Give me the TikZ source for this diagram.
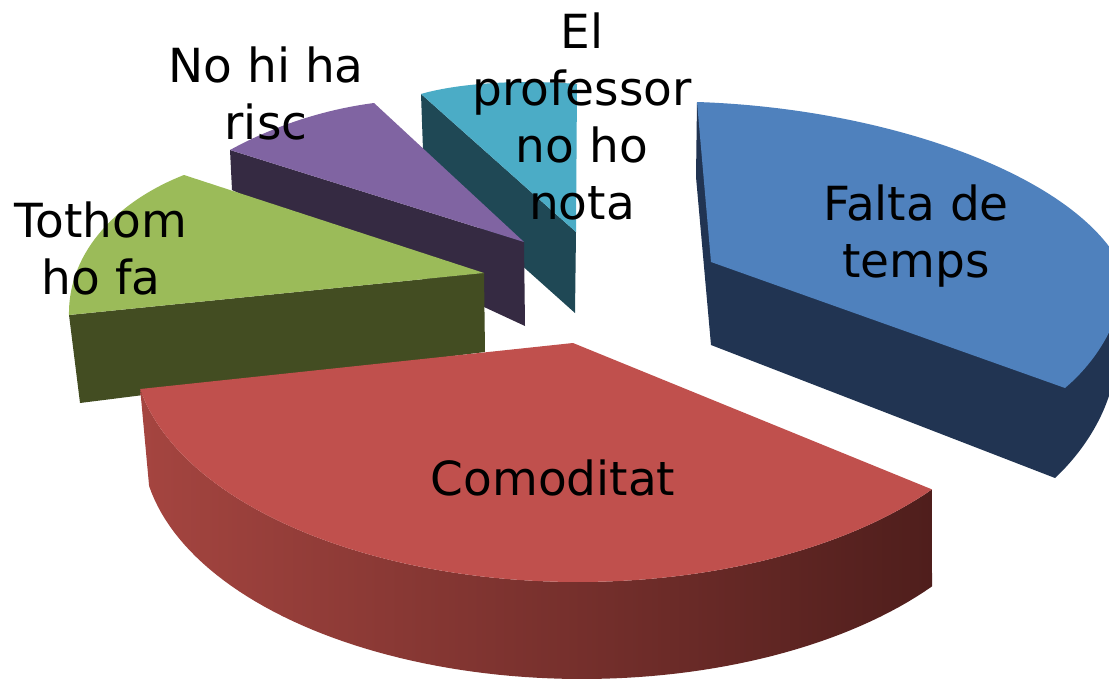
\documentclass[tikz,border=0pt]{standalone}
\usepackage{fontspec}
\setmainfont{DejaVu Sans}
\definecolor{tealtop}{HTML}{4BACC6}
\definecolor{tealside}{HTML}{1F4855}
\definecolor{purptop}{HTML}{8064A2}
\definecolor{purpside}{HTML}{352A42}
\definecolor{greentop}{HTML}{9BBB59}
\definecolor{greenside}{HTML}{434D22}
\definecolor{bluetop}{HTML}{4F81BD}
\definecolor{blueside}{HTML}{213452}
\definecolor{redtop}{HTML}{C0504D}
\definecolor{redL}{HTML}{A54540}
\definecolor{redM}{HTML}{7B302F}
\definecolor{redR}{HTML}{4F1E1C}
\begin{document}
\begin{tikzpicture}[x=1pt,y=-1pt,
  lbl/.style={font=\fontsize{47}{57}\selectfont, align=center, inner sep=0pt, anchor=north, text=black}]
\useasboundingbox (0,0) rectangle (1109,685);
\fill[white] (0,0) rectangle (1109,685);
\clip (0,0) rectangle (1109,685);
% El professor no ho nota (teal)
\fill[tealside] (421,94) -- (424,178) -- (575,313) -- (576,232) -- cycle;
\fill[tealtop] (421,94) .. controls (455,84) and (515,79) .. (577,84) -- (576,232) -- cycle;
% No hi ha risc (purple)
\fill[purpside] (230,150) -- (232,190) -- (525,326) -- (524,242) -- cycle;
\fill[purptop] (230,150) .. controls (270,128) and (320,110) .. (374,103) -- (524,242) -- cycle;
% Tothom ho fa (green)
\fill[greenside] (69,315) -- (80,403) -- (485,352) -- (484,273) -- cycle;
\fill[greentop] (484,273) -- (184,175) .. controls (120,200) and (68,250) .. (69,315) -- cycle;
% Falta de temps (blue)
\fill[blueside] (697,102) -- (696,177) -- (711,345) -- (1055,478) .. controls (1085,450) and (1105,415) .. (1112,385) -- (1124,290) -- (1115,255) -- cycle;
\fill[bluetop] (697,102) .. controls (880,108) and (1060,170) .. (1115,255) .. controls (1135,290) and (1110,350) .. (1065,388) -- (711,262) -- cycle;
% Comoditat (red)
\shade[left color=redL, middle color=redM, right color=redR]
  plot[domain=169.7:37.3, samples=80] ({578+445*cos(\x)},{347+235*sin(\x)})
  -- plot[domain=37.3:169.7, samples=80] ({582+440*cos(\x)},{444+235*sin(\x)}) -- cycle;
\fill[redtop] (573,343) -- plot[domain=169.7:37.3, samples=80] ({578+445*cos(\x)},{347+235*sin(\x)}) -- cycle;
% labels
\node[lbl] (lprof) at (582,13) {El\\professor\\no ho\\nota};
\node[lbl] (lrisc) at (266,47) {No hi ha\\risc};
\node[lbl] (ltot) at (101,202) {Tothom\\ho fa};
\node[lbl] (lfalta) at (916,185) {Falta de\\temps};
\node[lbl] (lcomo) at (553,460) {Comoditat};
\end{tikzpicture}
\end{document}
